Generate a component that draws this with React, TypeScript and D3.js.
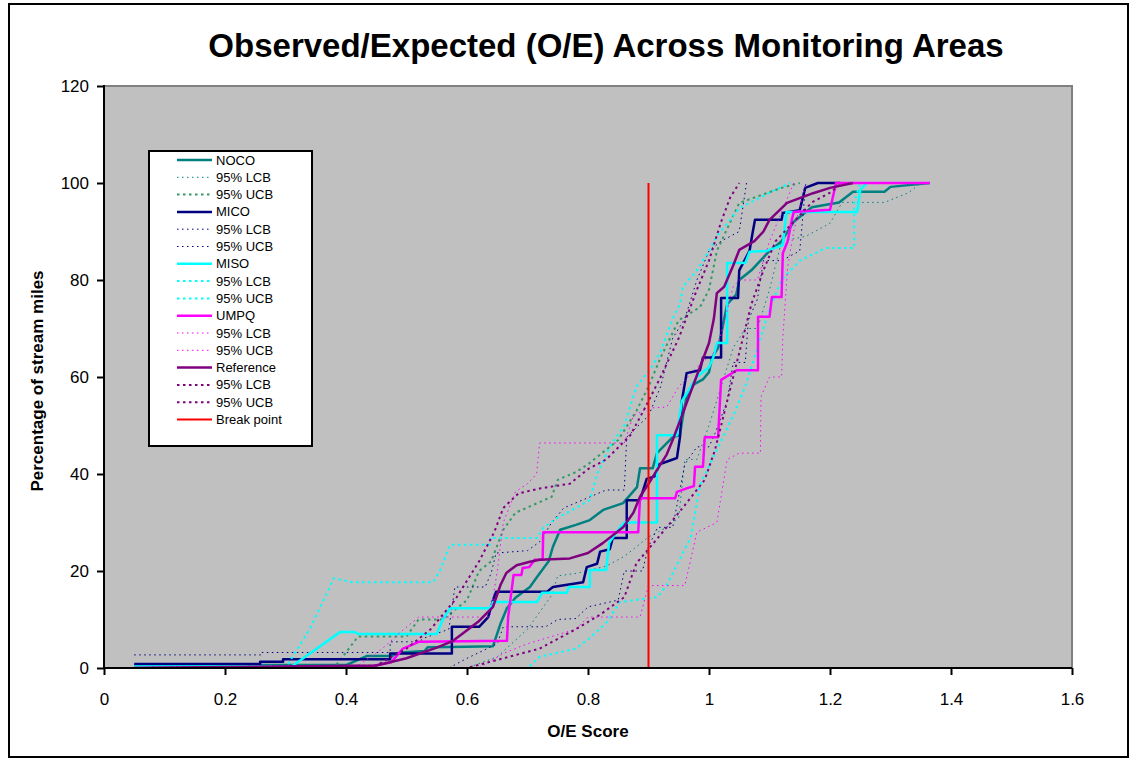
import * as React from 'react';
import * as d3 from 'd3';

type Pt = [number, number];

const title = 'Observed/Expected (O/E) Across Monitoring Areas';
const xLabel = 'O/E Score';
const yLabel = 'Percentage of stream miles';

const xTicks = [0, 0.2, 0.4, 0.6, 0.8, 1, 1.2, 1.4, 1.6];
const yTicks = [0, 20, 40, 60, 80, 100, 120];
const breakPoint = 0.9;

// O/E score vs cumulative % of stream miles
const noco: Pt[] = [[0.05, 0.6], [0.4, 0.6], [0.435, 2.5], [0.476, 2.5], [0.49, 3.2], [0.53, 3.5], [0.535, 4.3], [0.6, 4.4], [0.643, 4.5], [0.655, 9], [0.666, 12.3], [0.68, 14.5], [0.704, 16.7], [0.716, 18.8], [0.735, 22], [0.742, 25], [0.754, 28.5], [0.78, 29.5], [0.803, 30.5], [0.825, 32.6], [0.858, 34], [0.881, 37.3], [0.886, 41.2], [0.907, 41.2], [0.914, 44.3], [0.94, 47.6], [0.952, 48], [0.957, 52], [0.963, 56], [0.975, 58.5], [0.99, 59.5], [1.0, 61], [1.005, 64], [1.015, 66], [1.022, 70], [1.03, 75], [1.045, 77], [1.05, 80], [1.07, 82], [1.085, 84], [1.1, 86], [1.12, 88], [1.14, 92], [1.17, 95], [1.215, 96], [1.238, 98.2], [1.29, 98.2], [1.3, 99.2], [1.365, 100]];
const nocoLcb: Pt[] = [[0.05, 0], [0.6, 0], [0.65, 2.3], [0.7, 8], [0.74, 15], [0.75, 19], [0.78, 19.5], [0.83, 21], [0.86, 23], [0.9, 27], [0.93, 29], [0.95, 31], [0.96, 43], [0.98, 43], [1.0, 50], [1.02, 58], [1.04, 66], [1.06, 70], [1.08, 70], [1.1, 78], [1.12, 88], [1.16, 89], [1.2, 91.7], [1.22, 96], [1.29, 96], [1.33, 98], [1.35, 100]];
const nocoUcb: Pt[] = [[0.05, 0], [0.38, 0], [0.42, 6.5], [0.5, 6.5], [0.52, 10], [0.56, 10], [0.6, 14], [0.62, 20], [0.64, 22], [0.66, 28.5], [0.68, 32], [0.74, 35.3], [0.75, 38.8], [0.78, 40.4], [0.8, 42], [0.82, 44], [0.85, 47], [0.87, 51], [0.88, 53], [0.9, 58], [0.92, 64], [0.95, 71.7], [0.985, 74.4], [1.0, 78], [1.013, 86], [1.05, 95.9], [1.12, 99], [1.15, 100]];

const mico: Pt[] = [[0.05, 0.8], [0.258, 0.8], [0.258, 1.3], [0.296, 1.3], [0.296, 1.8], [0.473, 1.8], [0.473, 3], [0.575, 3], [0.575, 8.5], [0.62, 8.5], [0.635, 10.5], [0.643, 14], [0.648, 15.7], [0.732, 15.7], [0.742, 16.7], [0.792, 17.7], [0.798, 20.8], [0.815, 21.5], [0.82, 24], [0.836, 24.5], [0.841, 26.8], [0.864, 26.8], [0.864, 34.6], [0.886, 34.6], [0.897, 39], [0.91, 39.5], [0.918, 42], [0.947, 43.3], [0.952, 47.6], [0.955, 55], [0.963, 60.8], [0.985, 61.4], [0.99, 64], [1.02, 64], [1.02, 76.3], [1.048, 76.3], [1.05, 82], [1.067, 86], [1.072, 89.7], [1.076, 92.4], [1.12, 92.4], [1.122, 93.8], [1.15, 94.4], [1.159, 99], [1.18, 100], [1.217, 100]];
const micoLcb: Pt[] = [[0.05, 0], [0.57, 0], [0.6, 2], [0.65, 5], [0.66, 8.5], [0.73, 8.5], [0.75, 10], [0.78, 10.2], [0.8, 12.6], [0.85, 14], [0.86, 20], [0.89, 20], [0.9, 25], [0.915, 29], [0.94, 29], [0.96, 42], [0.98, 45.6], [1.0, 45.6], [1.01, 48.4], [1.03, 55], [1.04, 63], [1.06, 63], [1.065, 71.7], [1.08, 76], [1.09, 84], [1.12, 84], [1.15, 86], [1.155, 93], [1.16, 100]];
const micoUcb: Pt[] = [[0.05, 2.7], [0.26, 2.7], [0.26, 3.2], [0.473, 3.2], [0.473, 5.4], [0.52, 5.4], [0.53, 6.2], [0.57, 8], [0.58, 16.7], [0.63, 16.7], [0.64, 19.6], [0.648, 23.7], [0.7, 24.2], [0.72, 26], [0.74, 30], [0.76, 33], [0.83, 36.7], [0.86, 36.7], [0.864, 47.6], [0.9, 52], [0.92, 58], [0.94, 68], [0.96, 72], [0.98, 80], [1.0, 86], [1.02, 88], [1.05, 90], [1.062, 100]];

const miso: Pt[] = [[0.05, 0.3], [0.31, 0.3], [0.39, 7.4], [0.415, 7.4], [0.42, 7], [0.55, 7], [0.56, 10], [0.572, 12.3], [0.638, 12.3], [0.643, 13.6], [0.716, 13.6], [0.724, 15.5], [0.765, 15.5], [0.768, 16.7], [0.803, 16.7], [0.803, 20.2], [0.83, 20.2], [0.835, 25.8], [0.853, 29], [0.86, 30], [0.914, 30], [0.914, 48], [0.947, 48], [0.955, 55], [0.98, 60], [1.0, 62], [1.007, 64], [1.013, 67], [1.03, 67], [1.03, 83.5], [1.06, 83.5], [1.067, 85.8], [1.095, 86], [1.122, 87.2], [1.128, 94], [1.245, 94], [1.25, 98.6], [1.261, 100]];
const misoLcb: Pt[] = [[0.05, 0], [0.7, 0], [0.72, 2.3], [0.78, 4], [0.803, 6.2], [0.83, 9.3], [0.853, 13.6], [0.914, 14.6], [0.93, 17], [0.95, 22], [0.97, 27], [0.985, 37.7], [1.013, 45], [1.04, 52], [1.06, 58], [1.08, 66], [1.1, 74], [1.12, 80], [1.15, 84], [1.193, 86.6], [1.24, 86.6], [1.24, 96], [1.25, 100]];
const misoUcb: Pt[] = [[0.05, 0], [0.3, 0], [0.34, 8], [0.38, 18.5], [0.41, 17.7], [0.544, 17.7], [0.555, 20], [0.572, 25.4], [0.638, 25.4], [0.638, 26.8], [0.716, 26.8], [0.726, 28.9], [0.75, 31], [0.78, 33], [0.803, 34.6], [0.815, 40], [0.836, 45.6], [0.86, 50], [0.88, 58], [0.905, 62], [0.919, 65], [0.94, 72], [0.952, 75], [0.957, 78.6], [0.98, 82], [1.0, 86], [1.013, 89], [1.05, 94.8], [1.1, 98], [1.134, 100]];

const umpq: Pt[] = [[0.05, 0], [0.44, 0.3], [0.475, 1.2], [0.494, 4], [0.506, 4.6], [0.52, 5.4], [0.666, 5.6], [0.668, 10.5], [0.677, 19.2], [0.69, 19.2], [0.692, 20.6], [0.703, 20.8], [0.712, 22.3], [0.725, 22.3], [0.726, 28], [0.883, 28], [0.886, 35], [0.944, 35], [0.947, 36.3], [0.962, 37], [0.975, 37.5], [0.977, 41.5], [0.99, 41.5], [0.993, 47.6], [1.015, 47.6], [1.02, 59.4], [1.046, 61.4], [1.081, 61.4], [1.081, 72.4], [1.1, 72.4], [1.104, 76.5], [1.12, 76.5], [1.122, 85.5], [1.13, 88], [1.137, 92.4], [1.14, 94], [1.2, 94.5], [1.21, 100], [1.365, 100]];
const umpqLcb: Pt[] = [[0.05, 0], [0.62, 0], [0.66, 3], [0.7, 5], [0.78, 8], [0.8, 10.5], [0.886, 10.5], [0.9, 17], [0.96, 17], [0.98, 28], [1.013, 30], [1.03, 43], [1.05, 44.3], [1.085, 44.3], [1.086, 56], [1.1, 60], [1.12, 60], [1.122, 68], [1.13, 82.7], [1.14, 90], [1.16, 100]];
const umpqUcb: Pt[] = [[0.05, 0], [0.42, 0.5], [0.46, 4], [0.494, 7.8], [0.52, 10.5], [0.638, 10.5], [0.65, 20], [0.66, 30], [0.68, 36.3], [0.7, 38], [0.715, 40], [0.72, 46.4], [0.86, 46.4], [0.875, 52], [0.9, 53.6], [0.93, 53.8], [0.95, 58], [0.98, 62], [1.013, 65.6], [1.04, 78.6], [1.05, 80], [1.08, 80], [1.1, 88], [1.12, 94], [1.14, 100]];

const reference: Pt[] = [[0.05, 0], [0.45, 0.5], [0.5, 2], [0.55, 4.2], [0.577, 5.6], [0.6, 7.8], [0.62, 9.7], [0.643, 12.6], [0.655, 17], [0.665, 19.6], [0.682, 21.2], [0.704, 21.9], [0.72, 22.3], [0.77, 22.6], [0.8, 23.7], [0.825, 25.8], [0.858, 29], [0.875, 32], [0.886, 35.3], [0.9, 38], [0.914, 40.8], [0.93, 44], [0.94, 47], [0.957, 52.6], [0.97, 57], [0.985, 62], [1.0, 67], [1.008, 72], [1.013, 77.3], [1.025, 78.6], [1.04, 83], [1.05, 86.2], [1.075, 88], [1.09, 90], [1.1, 92.4], [1.129, 95.9], [1.172, 97.9], [1.2, 99], [1.238, 100]];
const referenceLcb: Pt[] = [[0.05, 0], [0.6, 0], [0.66, 2], [0.72, 4], [0.78, 8], [0.82, 11], [0.86, 14.6], [0.88, 21.6], [0.91, 26], [0.95, 32], [0.993, 38.8], [1.01, 45], [1.03, 55], [1.05, 65], [1.07, 75], [1.09, 82], [1.11, 88], [1.14, 92], [1.17, 96], [1.2, 98], [1.22, 100]];
const referenceUcb: Pt[] = [[0.05, 0], [0.45, 0.5], [0.5, 4], [0.54, 8], [0.58, 14], [0.62, 22], [0.645, 28], [0.66, 33], [0.685, 36], [0.72, 37], [0.77, 38], [0.8, 41], [0.83, 43], [0.87, 48], [0.895, 53.8], [0.92, 60], [0.95, 68], [0.98, 78], [1.0, 84], [1.02, 92], [1.035, 97], [1.05, 100]];

const breakLine: Pt[] = [[breakPoint, 0], [breakPoint, 100]];

interface ISeries {
  label: string;
  data: Pt[];
  color: string;
  width: number;
  dash: string | null;
}

const thinDot = '1.5,3.5';
const thickDot = '2.5,3.5';

const series: ISeries[] = [
  { label: 'NOCO', data: noco, color: '#008080', width: 2.5, dash: null },
  { label: '95% LCB', data: nocoLcb, color: '#008080', width: 1, dash: thinDot },
  { label: '95% UCB', data: nocoUcb, color: '#339966', width: 2, dash: thickDot },
  { label: 'MICO', data: mico, color: '#000080', width: 2.5, dash: null },
  { label: '95% LCB', data: micoLcb, color: '#000080', width: 1, dash: thinDot },
  { label: '95% UCB', data: micoUcb, color: '#000080', width: 1, dash: thinDot },
  { label: 'MISO', data: miso, color: '#00FFFF', width: 2.5, dash: null },
  { label: '95% LCB', data: misoLcb, color: '#00FFFF', width: 2, dash: thickDot },
  { label: '95% UCB', data: misoUcb, color: '#00FFFF', width: 2, dash: thickDot },
  { label: 'UMPQ', data: umpq, color: '#FF00FF', width: 2.5, dash: null },
  { label: '95% LCB', data: umpqLcb, color: '#FF00FF', width: 1, dash: thinDot },
  { label: '95% UCB', data: umpqUcb, color: '#FF00FF', width: 1, dash: thinDot },
  { label: 'Reference', data: reference, color: '#800080', width: 2.5, dash: null },
  { label: '95% LCB', data: referenceLcb, color: '#800080', width: 2, dash: thickDot },
  { label: '95% UCB', data: referenceUcb, color: '#800080', width: 2, dash: thickDot },
  { label: 'Break point', data: breakLine, color: '#FF0000', width: 2, dash: null },
];

const W = 1129;
const H = 759;
const plot = { left: 104, right: 1072, top: 86, bottom: 668 };
const font = 'Arial, "Liberation Sans", sans-serif';

export default class App extends React.Component {
  public container: React.RefObject<SVGSVGElement>;

  constructor(props: any) {
    super(props);
    this.container = React.createRef();
  }

  public componentDidMount() {
    this.draw();
  }

  public draw() {
    const svg = d3.select(this.container.current);
    svg.selectAll('*').remove();

    const x = d3.scaleLinear().domain([0, 1.6]).range([plot.left, plot.right]);
    const y = d3.scaleLinear().domain([0, 120]).range([plot.bottom, plot.top]);

    // outer chart border
    svg.append('rect')
      .attr('x', 9).attr('y', 4)
      .attr('width', 1119).attr('height', 753)
      .attr('fill', '#fff').attr('stroke', '#000').attr('stroke-width', 2);

    svg.append('text')
      .attr('x', 606).attr('y', 57)
      .attr('text-anchor', 'middle')
      .attr('font-family', font).attr('font-weight', 'bold').attr('font-size', 33)
      .text(title);

    // plot area
    svg.append('rect')
      .attr('x', plot.left).attr('y', plot.top)
      .attr('width', plot.right - plot.left).attr('height', plot.bottom - plot.top)
      .attr('fill', '#C0C0C0');
    svg.append('path')
      .attr('d', `M${plot.left},${plot.top}H${plot.right}V${plot.bottom}`)
      .attr('fill', 'none').attr('stroke', '#808080').attr('stroke-width', 2);

    svg.append('defs').append('clipPath').attr('id', 'plotclip')
      .append('rect')
      .attr('x', plot.left).attr('y', plot.top)
      .attr('width', plot.right - plot.left).attr('height', plot.bottom - plot.top);

    const line = d3.line<Pt>().x(d => x(d[0])).y(d => y(d[1]));

    const g = svg.append('g').attr('clip-path', 'url(#plotclip)');
    series.forEach(s => {
      g.append('path')
        .attr('d', line(s.data))
        .attr('fill', 'none')
        .attr('stroke', s.color)
        .attr('stroke-width', s.width)
        .attr('stroke-dasharray', s.dash)
        .attr('stroke-linejoin', 'round');
    });

    // axes
    const yAxis = svg.append('g')
      .attr('transform', `translate(${plot.left},0)`)
      .call(d3.axisLeft(y).tickValues(yTicks).tickSize(7).tickPadding(8).tickFormat(d3.format('d')));
    const xAxis = svg.append('g')
      .attr('transform', `translate(0,${plot.bottom})`)
      .call(d3.axisBottom(x).tickValues(xTicks).tickSize(7).tickPadding(18).tickFormat(d => String(d)));
    [xAxis, yAxis].forEach(a => {
      a.select('.domain').attr('stroke-width', 2).attr('d', null);
      a.selectAll('.tick line').attr('stroke-width', 2);
      a.selectAll('text').attr('font-family', font).attr('font-size', 17).attr('fill', '#000');
    });
    svg.append('path')
      .attr('d', `M${plot.left},${plot.top - 1}V${plot.bottom}H${plot.right}`)
      .attr('fill', 'none').attr('stroke', '#000').attr('stroke-width', 2);

    svg.append('text')
      .attr('x', 588).attr('y', 737)
      .attr('text-anchor', 'middle')
      .attr('font-family', font).attr('font-weight', 'bold').attr('font-size', 17)
      .text(xLabel);
    svg.append('text')
      .attr('transform', 'translate(43,381) rotate(-90)')
      .attr('text-anchor', 'middle')
      .attr('font-family', font).attr('font-weight', 'bold').attr('font-size', 17)
      .text(yLabel);

    // legend
    const lg = svg.append('g');
    lg.append('rect')
      .attr('x', 149).attr('y', 151)
      .attr('width', 163).attr('height', 295)
      .attr('fill', '#fff').attr('stroke', '#000').attr('stroke-width', 2);
    const row = lg.selectAll('.row').data(series).enter().append('g')
      .attr('class', 'row')
      .attr('transform', (_, i) => `translate(0,${160 + i * 17.3})`);
    row.append('line')
      .attr('x1', 177).attr('x2', 212)
      .attr('stroke', d => d.color)
      .attr('stroke-width', d => d.width)
      .attr('stroke-dasharray', d => d.dash);
    row.append('text')
      .attr('x', 216).attr('dy', '0.35em')
      .attr('font-family', font).attr('font-size', 13)
      .text(d => d.label);
  }

  public render() {
    return (
      <svg
        ref={this.container}
        width={W}
        height={H}
        style={{ position: 'absolute', left: 0, top: 0 }}
      />
    );
  }
}
